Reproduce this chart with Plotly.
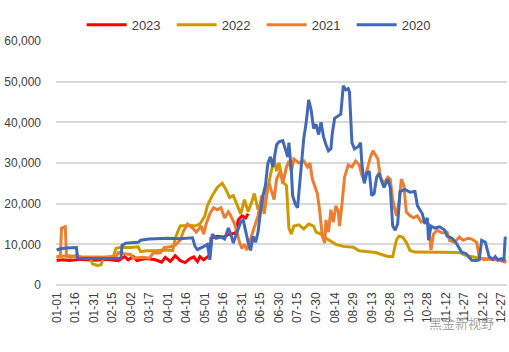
import pandas as pd
import plotly.graph_objects as go

# categories: every day of the year as MM-DD
categories = list(pd.date_range("2023-01-01", "2023-12-31").strftime("%m-%d"))
tick_labels = categories[::15]

# series breakpoints (day index within year, value)
red_day = [0, 5, 10, 20, 30, 40, 50, 55, 58, 62, 65, 72, 80, 85, 88, 92, 96, 100, 104, 108, 111, 114, 116, 119,
           122, 124, 125, 130, 135, 140, 145, 147, 150, 153, 155]
red_val = [6000, 6200, 6000, 6300, 6100, 6300, 6000, 7000, 6200, 7000, 6000, 6500, 6200, 5600, 6800, 5800, 7200,
           6000, 5500, 6500, 6900, 5800, 7000, 6200, 6900, 7300, 11500, 12000, 11800, 12500, 12800, 16000, 17000,
           16500, 17500]

gold_day = [0, 10, 20, 27, 29, 33, 36, 38, 46, 48, 52, 60, 66, 68, 73, 80, 88, 94, 96, 100, 108, 112, 116, 120,
            122, 126, 130, 134, 137, 140, 143, 146, 149, 152, 155, 158, 160, 163, 166, 168, 170, 173, 176, 178, 180,
            182, 184, 186, 188, 190, 192, 196, 200, 204, 208, 210, 214, 218, 222, 226, 232, 240, 245, 250, 258, 263,
            268, 272, 275, 277, 280, 283, 286, 290, 310, 326, 330, 336, 342, 350, 358, 364]
gold_val = [7000, 7200, 6900, 6800, 5200, 4800, 5000, 6800, 7000, 9000, 9300, 9200, 9400, 8200, 8400, 8400, 8600,
            8500, 11500, 14500, 14700, 14500, 15000, 17000, 19500, 22000, 24000, 25000, 23500, 21500, 22000, 19500,
            17500, 21000, 18000, 20500, 22500, 18500, 20500, 17500, 22000, 27000, 31000, 28000, 30000, 27000, 25000,
            24500, 14000, 12500, 14500, 14800, 13800, 15000, 14500, 13000, 12500, 11500, 10800, 10000, 9500, 9300,
            8400, 8200, 8000, 7500, 7000, 7000, 11000, 12000, 11800, 10500, 8500, 8100, 8100, 8000, 7400, 7000, 6600,
            6400, 6200, 5900]

orange_day = [0, 3, 4, 7, 8, 11, 16, 20, 30, 40, 48, 50, 55, 60, 62, 70, 75, 78, 84, 87, 92, 96, 100, 103, 106,
              110, 113, 117, 119, 121, 124, 127, 130, 133, 136, 139, 141, 144, 146, 148, 150, 152, 154, 156, 160,
              163, 166, 168, 170, 172, 176, 178, 181, 183, 186, 188, 190, 192, 196, 200, 203, 205, 207, 209, 211,
              213, 215, 217, 218, 220, 222, 224, 226, 228, 229, 231, 233, 236, 239, 242, 245, 247, 249, 251, 254,
              256, 258, 260, 262, 265, 268, 270, 272, 275, 277, 279, 281, 283, 286, 289, 292, 295, 298, 301, 303,
              305, 308, 312, 316, 318, 322, 326, 329, 333, 336, 340, 342, 346, 352, 358, 364]
orange_val = [6800, 7000, 14000, 14300, 7000, 6800, 7300, 6800, 6900, 6800, 7000, 8000, 7700, 7500, 6600, 6800,
              6600, 7800, 7900, 9200, 9400, 9800, 11000, 13500, 15000, 14000, 13000, 14500, 12500, 15000, 17500,
              19000, 18500, 19000, 16500, 18000, 17000, 15000, 13000, 10500, 9000, 10000, 8600, 10500, 14000, 17000,
              22000, 18000, 23500, 25000, 21000, 26000, 28000, 25000, 29000, 30500, 28000, 31000, 30000, 30500,
              29000, 30000, 26000, 24000, 22500, 18000, 12000, 10300, 16000, 13000, 18500, 15500, 19500, 18000,
              14500, 20000, 26500, 29500, 29000, 30500, 29500, 27000, 25500, 28000, 31500, 33000, 32000, 31000,
              26500, 25000, 26500, 26000, 21000, 17000, 20000, 26000, 24500, 18000, 17000, 16500, 17000, 15500,
              16000, 15000, 8600, 12500, 13500, 12800, 13000, 11000, 10500, 11800, 11000, 11500, 11300, 10500, 6800,
              6200, 6500, 6000, 5600]

blue_day = [0, 3, 8, 16, 17, 22, 40, 52, 53, 56, 66, 68, 75, 90, 100, 110, 112, 114, 118, 122, 124, 126, 129, 133,
            136, 139, 141, 143, 146, 149, 151, 153, 155, 157, 159, 161, 163, 165, 167, 169, 171, 173, 175, 178, 180,
            183, 185, 187, 188, 190, 191, 193, 195, 197, 199, 200, 202, 204, 206, 208, 210, 212, 214, 216, 218, 220,
            222, 223, 225, 228, 230, 232, 234, 236, 237, 239, 241, 244, 246, 247, 249, 251, 253, 255, 257, 259, 261,
            263, 265, 268, 270, 272, 274, 276, 278, 282, 286, 290, 292, 294, 296, 298, 300, 301, 303, 306, 310, 314,
            316, 320, 323, 326, 328, 331, 334, 336, 340, 342, 344, 347, 350, 353, 355, 357, 360, 362, 363, 364]
blue_val = [8600, 8900, 9100, 9200, 6600, 6500, 6500, 6600, 9800, 10300, 10500, 11000, 11300, 11500, 11400, 11600,
            9500, 8700, 9300, 10000, 6200, 12500, 11500, 11800, 11300, 14000, 12500, 10300, 13000, 15500, 16000,
            13000, 10500, 8500, 12000, 10500, 13000, 18000, 22000, 24500, 30000, 31500, 29000, 34500, 35200, 35500,
            33500, 31500, 35000, 28000, 22000, 20000, 19000, 26000, 32000, 36000, 40000, 45500, 43000, 38500, 39500,
            37000, 40000, 36500, 34500, 33000, 33500, 37000, 41000, 41500, 42000, 49000, 48000, 48300, 47500, 35000,
            33500, 34000, 35000, 30000, 25000, 27500, 28000, 22000, 22500, 26500, 27500, 25500, 24000, 26000, 24000,
            14500, 13500, 15000, 23000, 23500, 22800, 23000, 19500, 18500, 17500, 15000, 16500, 11000, 14500, 14000,
            14300, 13500, 12000, 11500, 10500, 9000, 8000, 7800, 6800, 6100, 6000, 6200, 11000, 10500, 7000, 6300,
            7000, 6200, 6500, 6000, 11500, 11800]

series = [
    ("2023", red_day, red_val, "#FF0000"),
    ("2022", gold_day, gold_val, "#CC9A00"),
    ("2021", orange_day, orange_val, "#ED7D31"),
    ("2020", blue_day, blue_val, "#4169B8"),
]

fig = go.Figure()
for name, days, vals, color in series:
    fig.add_trace(go.Scatter(
        x=[categories[d] for d in days], y=vals, name=name, mode="lines",
        line=dict(color=color, width=3),
    ))

font_family = "Liberation Sans, Arial, sans-serif"
fig.update_layout(
    width=509, height=352,
    margin=dict(l=56, r=2, t=41, b=67),
    paper_bgcolor="white", plot_bgcolor="white",
    font=dict(family=font_family, size=12, color="#404040"),
    showlegend=True,
    legend=dict(orientation="h", x=0.456, xanchor="center", y=1.066, yanchor="middle",
                font=dict(size=13, color="#404040"), traceorder="normal", itemwidth=40,
                entrywidth=35, entrywidthmode="pixels"),
    xaxis=dict(type="category", categoryorder="array", categoryarray=categories,
               range=[-0.5, len(categories) - 0.5], tickmode="array", tickvals=tick_labels,
               ticktext=tick_labels, tickangle=-90, showgrid=False, showline=False, ticks="",
               ticklabelstandoff=4, tickfont=dict(size=12, color="#404040")),
    yaxis=dict(range=[0, 60000], dtick=10000, tickformat=",", showgrid=True, gridcolor="#D9D9D9",
               gridwidth=1.5, zeroline=True, zerolinecolor="#D9D9D9", zerolinewidth=1.5, showline=False,
               ticks="", ticklabelstandoff=14, tickfont=dict(size=12, color="#404040")),
)

fig.add_annotation(text="黑金新视野", xref="paper", yref="paper", x=0.975, y=-0.155, xanchor="right",
                   yanchor="middle", showarrow=False,
                   font=dict(family="Noto Sans CJK SC", size=13, color="#A6A6A6"))

fig.write_html("out.html")
